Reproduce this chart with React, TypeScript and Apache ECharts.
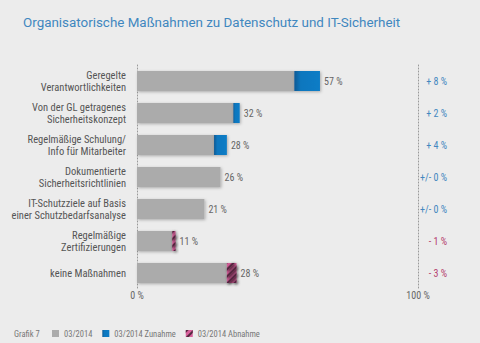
import React, { useEffect, useRef } from "react";
import * as echarts from "echarts";

const categories = [
  "Geregelte\nVerantwortlichkeiten",
  "Von der GL getragenes\nSicherheitskonzept",
  "Regelmäßige Schulung/\nInfo für Mitarbeiter",
  "Dokumentierte\nSicherheitsrichtlinien",
  "IT-Schutzziele auf Basis\neiner Schutzbedarfsanalyse",
  "Regelmäßige\nZertifizierungen",
  "keine Maßnahmen",
];
const current = [57, 32, 28, 26, 21, 11, 28];
const change = [8, 2, 4, 0, 0, -1, -3];
const changeLabels = ["+ 8 %", "+ 2 %", "+ 4 %", "+/- 0 %", "+/- 0 %", "- 1 %", "- 3 %"];
const axisTicks = [0, 100];
const seriesNames = ["03/2014", "03/2014 Zunahme", "03/2014 Abnahme"];

const baseValues = current.map((v, i) => v - Math.max(change[i], 0));
const increaseValues = change.map((c) => Math.max(c, 0));
const decreaseValues = change.map((c) => Math.max(-c, 0));

const FONT = "Roboto";
const NARROW = "'Roboto Condensed', Roboto, sans-serif";

export default function App() {
  const ref = useRef<HTMLDivElement>(null);
  useEffect(() => {
    if (!ref.current) return;
    const chart = echarts.init(ref.current, undefined, { renderer: "svg" });
    const shadow = {
      shadowBlur: 3,
      shadowColor: "rgba(0,0,0,0.28)",
      shadowOffsetX: 1,
      shadowOffsetY: 1,
    };
    const dotted = { type: [1, 2], color: "#999", width: 1 };
    chart.setOption({
      animation: false,
      backgroundColor: "#ececec",
      textStyle: { fontFamily: FONT },
      title: {
        text: "Organisatorische Maßnahmen zu Datenschutz und IT-Sicherheit",
        left: 18,
        top: 11,
        textStyle: { fontSize: 13.4, fontWeight: "normal", color: "#3f87bf", fontFamily: FONT },
      },
      legend: {
        left: 52,
        top: 329,
        padding: 0,
        itemWidth: 7,
        itemHeight: 7,
        itemGap: 10,
        icon: "rect",
        data: seriesNames,
        textStyle: { fontSize: 8.5, color: "#777", fontFamily: NARROW },
      },
      graphic: [
        {
          type: "text",
          left: 14,
          top: 329,
          style: { text: "Grafik 7", fontSize: 8.5, fill: "#777", fontFamily: NARROW },
        },
      ],
      grid: [
        { left: 137, top: 65, width: 321, height: 224, outerBoundsMode: "none" },
        { left: 378, top: 65, width: 40, height: 224, outerBoundsMode: "none" },
      ],
      xAxis: [
        { type: "value", gridIndex: 0, min: 0, max: 100, show: false },
        {
          type: "value",
          gridIndex: 0,
          min: 0,
          max: (100 * 321) / 281,
          interval: 100,
          position: "bottom",
          axisLine: { show: false },
          axisTick: { show: false },
          splitLine: { show: false },
          axisLabel: {
            margin: 1,
            fontSize: 10,
            color: "#666",
            fontFamily: NARROW,
            formatter: (v: number) => (axisTicks.includes(v) ? `${v} %` : ""),
          },
        },
        { type: "value", gridIndex: 1, min: 0, max: 1, show: false },
      ],
      yAxis: [
        {
          type: "category",
          gridIndex: 0,
          data: categories,
          inverse: true,
          axisTick: { show: false },
          axisLine: { show: true, onZero: false, lineStyle: dotted },
          axisLabel: { margin: 11, fontSize: 10.5, lineHeight: 12, color: "#555", fontFamily: NARROW },
        },
        {
          type: "category",
          gridIndex: 1,
          data: changeLabels,
          inverse: true,
          position: "right",
          axisTick: { show: false },
          axisLine: { show: true, onZero: false, lineStyle: dotted },
          axisLabel: {
            margin: 29,
            align: "right",
            formatter: (v: string, i: number) => (change[i] < 0 ? `{neg|${v}}` : `{pos|${v}}`),
            rich: {
              pos: { color: "#4387bf", fontSize: 10, fontFamily: NARROW },
              neg: { color: "#b5406f", fontSize: 10, fontFamily: NARROW },
            },
          },
        },
      ],
      series: [
        {
          name: seriesNames[0],
          type: "bar",
          stack: "s",
          barWidth: 20,
          data: baseValues,
          itemStyle: { color: "#ababab", ...shadow },
        },
        {
          name: seriesNames[1],
          type: "bar",
          stack: "s",
          barWidth: 20,
          data: increaseValues,
          itemStyle: {
            color: new echarts.graphic.LinearGradient(0, 0, 1, 0, [
              { offset: 0, color: "#0a5893" },
              { offset: 0.25, color: "#0c77be" },
              { offset: 1, color: "#0c7cc6" },
            ]),
            ...shadow,
          },
        },
        {
          name: seriesNames[2],
          type: "bar",
          stack: "s",
          barWidth: 20,
          data: decreaseValues,
          itemStyle: {
            color: "#d8609c",
            decal: {
              symbol: "rect",
              symbolSize: 1,
              color: "#552840",
              dashArrayX: [1, 0],
              dashArrayY: [1.2, 2.3],
              rotation: -Math.PI / 4,
            },
            ...shadow,
          },
          label: {
            show: true,
            position: "right",
            distance: 4,
            fontSize: 10,
            color: "#666",
            fontFamily: NARROW,
            formatter: (p: any) => `${current[p.dataIndex]} %`,
          },
        },
      ],
    });
    return () => chart.dispose();
  }, []);
  return (
    <div
      ref={ref}
      style={{ position: "fixed", left: 0, top: 0, width: 480, height: 343 }}
    />
  );
}
